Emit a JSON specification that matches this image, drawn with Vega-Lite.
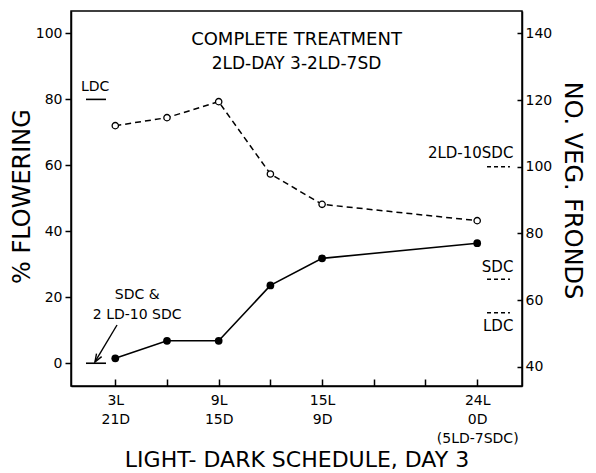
{
  "$schema": "https://vega.github.io/schema/vega-lite/v6.json",
  "width": 451,
  "height": 375,
  "autosize": "none",
  "padding": {"left": 71, "top": 11, "right": 74, "bottom": 87},
  "background": "white",
  "config": {
    "view": {"stroke": "black", "strokeWidth": 1.5},
    "font": "DejaVu Sans",
    "axis": {
      "domainColor": "black", "tickColor": "black", "labelColor": "black", "titleColor": "black",
      "grid": false, "labelFont": "DejaVu Sans", "titleFont": "DejaVu Sans", "titleFontWeight": "normal",
      "domainWidth": 1.5, "tickWidth": 1.5
    }
  },
  "title": {
    "text": "COMPLETE TREATMENT",
    "subtitle": "2LD-DAY 3-2LD-7SD",
    "anchor": "middle", "frame": "group", "offset": -61,
    "font": "DejaVu Sans", "subtitleFont": "DejaVu Sans",
    "fontSize": 18, "subtitleFontSize": 17, "fontWeight": "normal",
    "color": "black", "subtitleColor": "black", "subtitlePadding": 7
  },
  "datasets": {
    "schedule": [
      {"light": 3, "flowering": 1.5, "fronds": 112.3},
      {"light": 6, "flowering": 6.8, "fronds": 114.7},
      {"light": 9, "flowering": 6.8, "fronds": 119.5},
      {"light": 12, "flowering": 23.6, "fronds": 97.8},
      {"light": 15, "flowering": 31.8, "fronds": 88.7},
      {"light": 24, "flowering": 36.4, "fronds": 83.8}
    ],
    "leftControls": [
      {"control": "LDC", "flowering": 80},
      {"control": "SDC & 2LD-10SDC", "flowering": 0}
    ],
    "rightControls": [
      {"control": "2LD-10SDC", "fronds": 100},
      {"control": "SDC", "fronds": 66.2},
      {"control": "LDC", "fronds": 56.2}
    ]
  },
  "resolve": {"scale": {"y": "independent"}},
  "layer": [
    {
      "data": {"name": "schedule"},
      "mark": {"type": "line", "color": "black", "strokeWidth": 1.6},
      "encoding": {
        "x": {
          "field": "light", "type": "quantitative",
          "scale": {"domain": [0.43, 26.6], "nice": false, "zero": false},
          "axis": {
            "values": [3, 6, 9, 12, 15, 18, 21, 24],
            "labelExpr": "datum.value == 3 ? ['3L','21D'] : datum.value == 9 ? ['9L','15D'] : datum.value == 15 ? ['15L','9D'] : datum.value == 24 ? ['24L','0D','(5LD-7SDC)'] : ''",
            "tickSize": -7, "labelPadding": 14, "labelFontSize": 14, "labelLineHeight": 19,
            "labelBaseline": "top",
            "title": "LIGHT- DARK  SCHEDULE, DAY 3", "titleFontSize": 22, "titlePadding": 4
          }
        },
        "y": {
          "field": "flowering", "type": "quantitative",
          "scale": {"domain": [-6.9, 106.8], "nice": false, "zero": false},
          "axis": {
            "orient": "left", "values": [0, 20, 40, 60, 80, 100],
            "tickSize": 6, "labelPadding": 3, "labelFontSize": 14,
            "title": "% FLOWERING", "titleFontSize": 24, "titlePadding": 1, "titleY": 185
          }
        }
      }
    },
    {
      "data": {"name": "schedule"},
      "mark": {"type": "point", "filled": true, "color": "black", "size": 60, "opacity": 1},
      "encoding": {
        "x": {"field": "light", "type": "quantitative"},
        "y": {"field": "flowering", "type": "quantitative", "scale": {"domain": [-6.9, 106.8], "nice": false, "zero": false}, "axis": null}
      }
    },
    {
      "data": {"name": "schedule"},
      "mark": {"type": "line", "color": "black", "strokeWidth": 1.5, "strokeDash": [6, 4]},
      "encoding": {
        "x": {"field": "light", "type": "quantitative"},
        "y": {
          "field": "fronds", "type": "quantitative",
          "scale": {"domain": [34.2, 146.7], "nice": false, "zero": false},
          "axis": {
            "orient": "right", "values": [40, 60, 80, 100, 120, 140],
            "tickSize": -5, "labelPadding": 8, "labelFontSize": 14,
            "title": "NO. VEG. FRONDS", "titleFontSize": 24, "titleAngle": 90, "titlePadding": 8, "titleY": 179
          }
        }
      }
    },
    {
      "data": {"name": "schedule"},
      "mark": {"type": "point", "filled": false, "fill": "white", "stroke": "black", "strokeWidth": 1.3, "size": 40, "opacity": 1},
      "encoding": {
        "x": {"field": "light", "type": "quantitative"},
        "y": {"field": "fronds", "type": "quantitative", "scale": {"domain": [34.2, 146.7], "nice": false, "zero": false}, "axis": null}
      }
    },
    {
      "data": {"name": "leftControls"},
      "mark": {"type": "rule", "color": "black", "strokeWidth": 1.6},
      "encoding": {
        "x": {"datum": 1.3, "type": "quantitative"},
        "x2": {"datum": 2.46},
        "y": {"field": "flowering", "type": "quantitative", "scale": {"domain": [-6.9, 106.8], "nice": false, "zero": false}, "axis": null}
      }
    },
    {
      "data": {"name": "rightControls"},
      "mark": {"type": "rule", "color": "black", "strokeWidth": 1.5, "strokeDash": [4, 3]},
      "encoding": {
        "x": {"datum": 24.57, "type": "quantitative"},
        "x2": {"datum": 25.9},
        "y": {"field": "fronds", "type": "quantitative", "scale": {"domain": [34.2, 146.7], "nice": false, "zero": false}, "axis": null}
      }
    },
    {
      "data": {"values": [{}]},
      "mark": {"type": "text", "text": "LDC", "fontSize": 14, "align": "center", "baseline": "middle", "color": "black"},
      "encoding": {
        "x": {"datum": 1.83, "type": "quantitative"},
        "y": {"datum": 83.7, "type": "quantitative", "scale": {"domain": [-6.9, 106.8], "nice": false, "zero": false}, "axis": null}
      }
    },
    {
      "data": {"values": [{}]},
      "mark": {"type": "text", "text": ["SDC &", "2 LD-10 SDC"], "fontSize": 14, "lineHeight": 20, "align": "center", "baseline": "middle", "color": "black"},
      "encoding": {
        "x": {"datum": 4.27, "type": "quantitative"},
        "y": {"datum": 20.6, "type": "quantitative", "scale": {"domain": [-6.9, 106.8], "nice": false, "zero": false}, "axis": null}
      }
    },
    {
      "data": {"values": [{}]},
      "mark": {"type": "rule", "color": "black", "strokeWidth": 1.4},
      "encoding": {
        "x": {"datum": 3.1, "type": "quantitative"},
        "x2": {"datum": 1.82},
        "y": {"datum": 11.6, "type": "quantitative", "scale": {"domain": [-6.9, 106.8], "nice": false, "zero": false}, "axis": null},
        "y2": {"datum": 0.4}
      }
    },
    {
      "data": {"values": [{}]},
      "mark": {"type": "point", "shape": "M-0.6,1.6L0,0L0.6,1.6", "filled": false, "stroke": "black", "strokeWidth": 1.4, "size": 100, "angle": 211, "opacity": 1},
      "encoding": {
        "x": {"datum": 1.82, "type": "quantitative"},
        "y": {"datum": 0.4, "type": "quantitative", "scale": {"domain": [-6.9, 106.8], "nice": false, "zero": false}, "axis": null}
      }
    },
    {
      "data": {"values": [{}]},
      "mark": {"type": "text", "text": "2LD-10SDC", "fontSize": 15, "align": "right", "baseline": "middle", "color": "black"},
      "encoding": {
        "x": {"datum": 26.1, "type": "quantitative"},
        "y": {"datum": 104.1, "type": "quantitative", "scale": {"domain": [34.2, 146.7], "nice": false, "zero": false}, "axis": null}
      }
    },
    {
      "data": {"values": [{}]},
      "mark": {"type": "text", "text": "SDC", "fontSize": 15, "align": "right", "baseline": "middle", "color": "black"},
      "encoding": {
        "x": {"datum": 26.1, "type": "quantitative"},
        "y": {"datum": 70, "type": "quantitative", "scale": {"domain": [34.2, 146.7], "nice": false, "zero": false}, "axis": null}
      }
    },
    {
      "data": {"values": [{}]},
      "mark": {"type": "text", "text": "LDC", "fontSize": 15, "align": "right", "baseline": "middle", "color": "black"},
      "encoding": {
        "x": {"datum": 26.1, "type": "quantitative"},
        "y": {"datum": 52.2, "type": "quantitative", "scale": {"domain": [34.2, 146.7], "nice": false, "zero": false}, "axis": null}
      }
    }
  ]
}
